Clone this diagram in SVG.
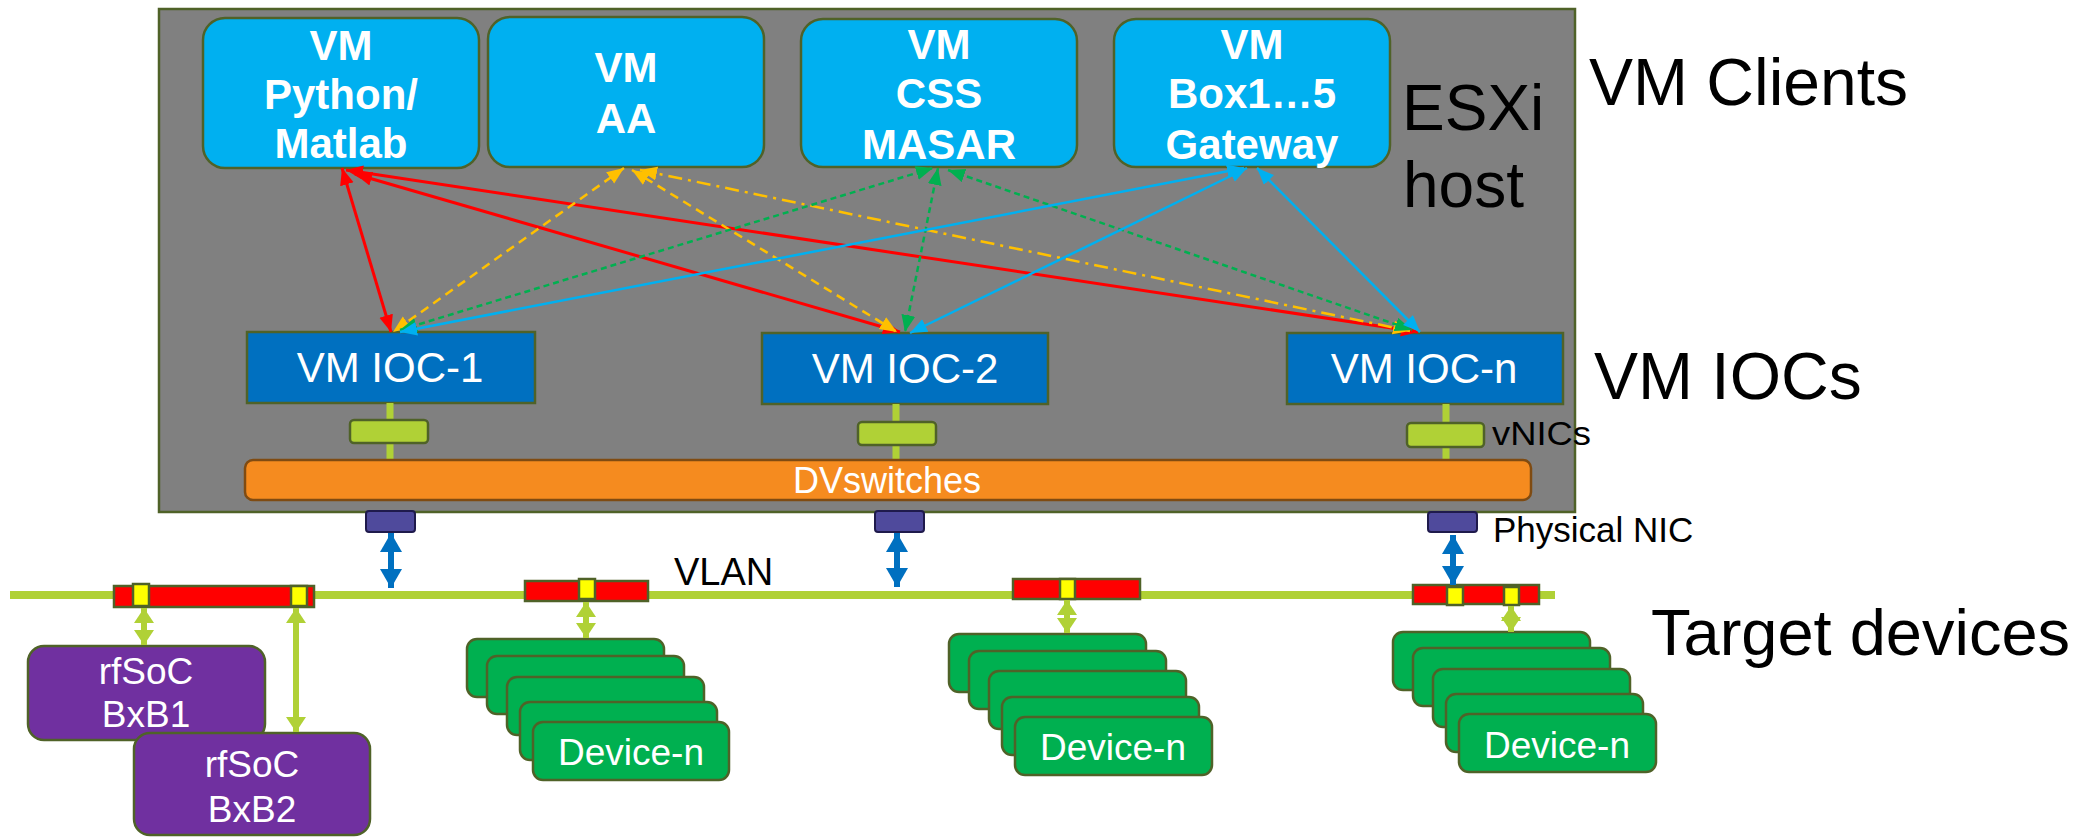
<svg xmlns="http://www.w3.org/2000/svg" width="2093" height="837" viewBox="0 0 2093 837">
<style>
text{font-family:"Liberation Sans",Arial,sans-serif}
.host{fill:#808080;stroke:#4f6228;stroke-width:2.5}
.vmc{fill:#00b0f0;stroke:#4f6228;stroke-width:2.5}
.vmt{fill:#fff;font-weight:bold;font-size:42px;text-anchor:middle}
.ioc{fill:#0070c0;stroke:#4f6228;stroke-width:2.5}
.ioct{fill:#fff;font-size:42px;text-anchor:middle}
.vnic{fill:#b0d136;stroke:#4f6228;stroke-width:2.5}
.gl{stroke:#b0d136;stroke-width:7;fill:none}
.dvs{fill:#f58b1f;stroke:#7f4b12;stroke-width:2.5}
.nic{fill:#4f4a9c;stroke:#1f1a4c;stroke-width:2}
.bar{fill:#ff0000;stroke:#4f6228;stroke-width:2.5}
.port{fill:#ffff00;stroke:#4f6228;stroke-width:2.5}
.dev{fill:#00b050;stroke:#4f6228;stroke-width:2.5}
.rf{fill:#7030a0;stroke:#4f6228;stroke-width:2.5}
.wt{fill:#fff;font-size:37px;text-anchor:middle}
.lbl{fill:#000}
.r{stroke:#ff0000;stroke-width:3;fill:none;marker-start:url(#hr);marker-end:url(#hr)}
.y{stroke:#ffc000;stroke-width:2.5;fill:none;stroke-dasharray:9 6;marker-start:url(#hy);marker-end:url(#hy)}
.yd{stroke:#ffc000;stroke-width:2.5;fill:none;stroke-dasharray:14 6 3 6;marker-start:url(#hy);marker-end:url(#hy)}
.g{stroke:#00b050;stroke-width:2.5;fill:none;stroke-dasharray:6 4;marker-start:url(#hg);marker-end:url(#hg)}
.c{stroke:#00b0f0;stroke-width:2.5;fill:none;marker-start:url(#hc);marker-end:url(#hc)}
.ba{stroke:#0070c0;stroke-width:6;fill:none;marker-start:url(#hb);marker-end:url(#hb)}
.ga{stroke:#b0d136;stroke-width:6;fill:none;marker-start:url(#hl);marker-end:url(#hl)}
</style>
<defs>
<marker id="hr" markerUnits="userSpaceOnUse" markerWidth="20" markerHeight="16" refX="17" refY="7" orient="auto-start-reverse"><path d="M0,0 L17,7 L0,14 z" fill="#ff0000"/></marker>
<marker id="hy" markerUnits="userSpaceOnUse" markerWidth="20" markerHeight="16" refX="17" refY="7" orient="auto-start-reverse"><path d="M0,0 L17,7 L0,14 z" fill="#ffc000"/></marker>
<marker id="hg" markerUnits="userSpaceOnUse" markerWidth="20" markerHeight="16" refX="17" refY="7" orient="auto-start-reverse"><path d="M0,0 L17,7 L0,14 z" fill="#00b050"/></marker>
<marker id="hc" markerUnits="userSpaceOnUse" markerWidth="20" markerHeight="16" refX="17" refY="7" orient="auto-start-reverse"><path d="M0,0 L17,7 L0,14 z" fill="#00b0f0"/></marker>
<marker id="hb" markerUnits="userSpaceOnUse" markerWidth="24" markerHeight="24" refX="19" refY="11" orient="auto-start-reverse"><path d="M0,0 L19,11 L0,22 z" fill="#0070c0"/></marker>
<marker id="hl" markerUnits="userSpaceOnUse" markerWidth="24" markerHeight="24" refX="15" refY="10" orient="auto-start-reverse"><path d="M0,0 L15,10 L0,20 z" fill="#b0d136"/></marker>
</defs>
<rect width="2093" height="837" fill="#fff"/>

<g id="esxi-host">
<rect class="host" x="159" y="9" width="1416" height="503"/>
<text class="lbl" x="1402" y="130" font-size="64">ESXi</text>
<text class="lbl" x="1403" y="207" font-size="64">host</text>
</g>

<g id="vm-python">
<rect class="vmc" x="203" y="18" width="276" height="150" rx="22"/>
<text class="vmt" x="341" y="60">VM</text>
<text class="vmt" x="341" y="109">Python/</text>
<text class="vmt" x="341" y="158">Matlab</text>
</g>
<g id="vm-aa">
<rect class="vmc" x="488" y="17" width="276" height="150" rx="22"/>
<text class="vmt" x="626" y="82">VM</text>
<text class="vmt" x="626" y="133">AA</text>
</g>
<g id="vm-css">
<rect class="vmc" x="801" y="19" width="276" height="148" rx="22"/>
<text class="vmt" x="939" y="59">VM</text>
<text class="vmt" x="939" y="108">CSS</text>
<text class="vmt" x="939" y="159">MASAR</text>
</g>
<g id="vm-box">
<rect class="vmc" x="1114" y="19" width="276" height="148" rx="22"/>
<text class="vmt" x="1252" y="59">VM</text>
<text class="vmt" x="1252" y="108">Box1…5</text>
<text class="vmt" x="1252" y="159">Gateway</text>
</g>

<g id="ioc-1">
<rect class="ioc" x="247" y="332" width="288" height="71"/>
<text class="ioct" x="390" y="382">VM IOC-1</text>
</g>
<g id="ioc-2">
<rect class="ioc" x="762" y="333" width="286" height="71"/>
<text class="ioct" x="905" y="383">VM IOC-2</text>
</g>
<g id="ioc-n">
<rect class="ioc" x="1287" y="333" width="276" height="71"/>
<text class="ioct" x="1424" y="383">VM IOC-n</text>
</g>

<g id="vnics">
<path class="gl" d="M390,403 V420 M390,443 V460 M896,404 V422 M896,445 V460 M1446,404 V423 M1446,447 V460"/>
<rect class="vnic" x="350" y="420" width="78" height="23" rx="4"/>
<rect class="vnic" x="858" y="422" width="78" height="23" rx="4"/>
<rect class="vnic" x="1407" y="423" width="77" height="24" rx="4"/>
<text class="lbl" x="1492" y="445" font-size="33" textLength="99" lengthAdjust="spacingAndGlyphs">vNICs</text>
</g>

<g id="dvswitches">
<rect class="dvs" x="245" y="460" width="1286" height="40" rx="8"/>
<text x="887" y="493" font-size="36" fill="#fff" text-anchor="middle">DVswitches</text>
</g>

<g id="physical-nics">
<rect class="nic" x="366" y="511" width="49" height="21" rx="3"/>
<rect class="nic" x="875" y="511" width="49" height="21" rx="3"/>
<rect class="nic" x="1428" y="512" width="49" height="20" rx="3"/>
<text class="lbl" x="1493" y="542" font-size="35">Physical NIC</text>
</g>

<g id="labels">
<text class="lbl" x="1589" y="105" font-size="66">VM Clients</text>
<text class="lbl" x="1594" y="399" font-size="66">VM IOCs</text>
<text class="lbl" x="1651" y="655" font-size="65">Target devices</text>
</g>

<g id="vlan">
<line x1="10" y1="595" x2="1555" y2="595" stroke="#b0d136" stroke-width="8"/>
<text class="lbl" x="674" y="585" font-size="38">VLAN</text>
<rect class="bar" x="114" y="586" width="200" height="21"/>
<rect class="port" x="133" y="584" width="16" height="22"/>
<rect class="port" x="291" y="586" width="16" height="20"/>
<rect class="bar" x="525" y="581" width="123" height="20"/>
<rect class="port" x="579" y="579" width="16" height="20"/>
<rect class="bar" x="1013" y="579" width="127" height="20"/>
<rect class="port" x="1060" y="579" width="15" height="20"/>
<rect class="bar" x="1413" y="585" width="126" height="19"/>
<rect class="port" x="1447" y="587" width="16" height="18"/>
<rect class="port" x="1504" y="587" width="15" height="18"/>
</g>

<g id="rfsoc-bxb1">
<rect class="rf" x="28" y="646" width="237" height="94" rx="16"/>
<text class="wt" x="146" y="684">rfSoC</text>
<text class="wt" x="146" y="727">BxB1</text>
</g>
<g id="rfsoc-bxb2">
<rect class="rf" x="134" y="733" width="236" height="102" rx="16"/>
<text class="wt" x="252" y="777">rfSoC</text>
<text class="wt" x="252" y="822">BxB2</text>
</g>

<g id="devices-1">
<rect class="dev" x="467" y="639" width="197" height="58" rx="10"/>
<rect class="dev" x="487" y="656" width="197" height="58" rx="10"/>
<rect class="dev" x="507" y="677" width="197" height="58" rx="10"/>
<rect class="dev" x="520" y="702" width="197" height="58" rx="10"/>
<rect class="dev" x="533" y="722" width="196" height="58" rx="10"/>
<text class="wt" x="631" y="765">Device-n</text>
</g>
<g id="devices-2">
<rect class="dev" x="949" y="634" width="197" height="58" rx="10"/>
<rect class="dev" x="969" y="651" width="197" height="58" rx="10"/>
<rect class="dev" x="989" y="671" width="197" height="58" rx="10"/>
<rect class="dev" x="1002" y="697" width="197" height="58" rx="10"/>
<rect class="dev" x="1015" y="717" width="197" height="58" rx="10"/>
<text class="wt" x="1113" y="760">Device-n</text>
</g>
<g id="devices-3">
<rect class="dev" x="1393" y="632" width="197" height="58" rx="10"/>
<rect class="dev" x="1413" y="648" width="197" height="58" rx="10"/>
<rect class="dev" x="1433" y="669" width="197" height="58" rx="10"/>
<rect class="dev" x="1446" y="694" width="197" height="58" rx="10"/>
<rect class="dev" x="1459" y="714" width="197" height="58" rx="10"/>
<text class="wt" x="1557" y="758">Device-n</text>
</g>

<g id="connectors">
<line class="r" x1="342" y1="168" x2="391" y2="332"/>
<line class="r" x1="346" y1="170" x2="1418" y2="332"/>
<line class="r" x1="355" y1="174" x2="900" y2="332"/>
<line class="y" x1="624" y1="168" x2="393" y2="332"/>
<line class="y" x1="632" y1="170" x2="897" y2="332"/>
<line class="yd" x1="640" y1="170" x2="1410" y2="331"/>
<line class="g" x1="400" y1="330" x2="933" y2="168"/>
<line class="g" x1="938" y1="168" x2="905" y2="332"/>
<line class="g" x1="948" y1="170" x2="1412" y2="330"/>
<line class="c" x1="400" y1="332" x2="1244" y2="168"/>
<line class="c" x1="1247" y1="168" x2="910" y2="333"/>
<line class="c" x1="1257" y1="168" x2="1420" y2="332"/>
<line class="ba" x1="391" y1="533" x2="391" y2="588"/>
<line class="ba" x1="897" y1="533" x2="897" y2="587"/>
<line class="ba" x1="1453" y1="535" x2="1453" y2="585"/>
<line class="ga" x1="144" y1="608" x2="144" y2="645"/>
<line class="ga" x1="296" y1="608" x2="296" y2="732"/>
<line class="ga" x1="586" y1="602" x2="586" y2="638"/>
<line class="ga" x1="1067" y1="600" x2="1067" y2="633"/>
<line class="ga" x1="1511" y1="606" x2="1511" y2="632"/>
</g>
</svg>
